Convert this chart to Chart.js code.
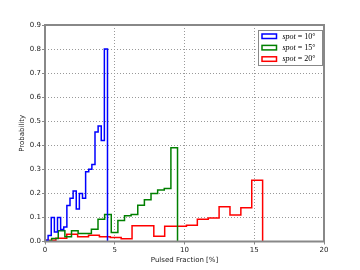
<!DOCTYPE html>
<html>
<head>
<meta charset="utf-8">
<script src="https://cdn.jsdelivr.net/npm/chart.js@4/dist/chart.umd.min.js"></script>
<style>
  html, body { margin: 0; padding: 0; background: #fff; }
</style>
</head>
<body>
<canvas id="pfChart" width="360" height="270"></canvas>
<script>
// normalised 20-bin histograms, each one spans 0 .. its own max pulsed fraction
const spotLabels = ["spot = 10°", "spot = 15°", "spot = 20°"];
const spotColors = ["#0000ff", "#008000", "#ff0000"];
const rangeMax = [4.48, 9.5, 15.6];
const spot10 = [0.005, 0.025, 0.10, 0.04, 0.10, 0.05, 0.06, 0.15, 0.18, 0.21,
                0.135, 0.20, 0.18, 0.29, 0.30, 0.32, 0.455, 0.48, 0.42, 0.80];
const spot15 = [0.002, 0.0125, 0.045, 0.02, 0.045, 0.033, 0.033, 0.051, 0.093, 0.1125,
                0.0375, 0.0875, 0.107, 0.1125, 0.151, 0.174, 0.20, 0.214, 0.22, 0.39];
const spot20 = [0.005, 0.013, 0.03, 0.02, 0.026, 0.02, 0.017, 0.011, 0.065, 0.065,
                0.022, 0.063, 0.063, 0.068, 0.092, 0.098, 0.144, 0.11, 0.14, 0.255];
const xTicks = [0, 5, 10, 15, 20];
const yTicks = [0, 0.1, 0.2, 0.3, 0.4, 0.5, 0.6, 0.7, 0.8, 0.9];

// outline of a step histogram: up from 0, across each bin, down at the end
function stepOutline(vals, max) {
  const w = max / vals.length;
  const pts = [{ x: 0, y: 0 }];
  vals.forEach((v, i) => pts.push({ x: i * w, y: v }));
  pts.push({ x: max, y: vals[vals.length - 1] });
  pts.push({ x: max, y: 0 });
  return pts;
}

const series = [spot10, spot15, spot20];
const datasets = series.map((vals, i) => ({
  label: spotLabels[i],
  data: stepOutline(vals, rangeMax[i]),
  borderColor: spotColors[i],
  borderWidth: 1.5,
  stepped: true,
  pointRadius: 0,
  fill: false,
}));

const frame = {
  id: "frame",
  afterDraw(chart) {
    const { ctx, chartArea: a } = chart;
    ctx.save();
    ctx.strokeStyle = "#888";
    ctx.lineWidth = 2;
    ctx.strokeRect(a.left, a.top, a.right - a.left, a.bottom - a.top);
    ctx.restore();
  },
};

const insideLegend = {
  id: "insideLegend",
  afterDraw(chart) {
    const { ctx, chartArea: a } = chart;
    const x0 = a.right - 65.5, y0 = a.top + 5.5, w = 64, h = 35;
    ctx.save();
    ctx.fillStyle = "#fff";
    ctx.fillRect(x0, y0, w, h);
    ctx.strokeStyle = "#888";
    ctx.lineWidth = 1;
    ctx.strokeRect(x0, y0, w, h);
    chart.data.datasets.forEach((ds, i) => {
      const cy = y0 + 5.5 + i * 11.4;
      ctx.strokeStyle = ds.borderColor;
      ctx.lineWidth = 1.5;
      ctx.strokeRect(x0 + 3.5, cy - 2, 14.5, 4.5);
      const sp = ds.label.indexOf(" ");
      const head = ds.label.slice(0, sp), tail = ds.label.slice(sp);
      ctx.fillStyle = "#000";
      ctx.textBaseline = "middle";
      let tx = x0 + 24;
      ctx.font = "italic 8px 'Liberation Serif'";
      ctx.fillText(head, tx, cy + 0.5);
      tx += ctx.measureText(head).width;
      ctx.font = "8px 'Liberation Serif'";
      ctx.fillText(tail, tx, cy + 0.5);
    });
    ctx.restore();
  },
};

const tickFont = { family: "'DejaVu Sans'", size: 7 };

new Chart(document.getElementById("pfChart"), {
  type: "line",
  data: { datasets },
  options: {
    responsive: false,
    animation: false,
    devicePixelRatio: 1,
    layout: { padding: { left: 0, top: 25, right: 36, bottom: 0 } },
    plugins: { legend: { display: false }, tooltip: { enabled: false } },
    scales: {
      x: {
        type: "linear",
        min: 0,
        max: 20,
        afterBuildTicks: (s) => { s.ticks = xTicks.map((v) => ({ value: v })); },
        afterFit: (s) => { s.height = 28.5; },
        ticks: { font: tickFont, color: "#222", padding: 1, maxRotation: 0 },
        grid: { color: "#999", tickLength: 3, tickColor: "#888", tickBorderDash: [] },
        border: { display: false, dash: [1, 2] },
        title: {
          display: true,
          text: "Pulsed Fraction [%]",
          font: tickFont,
          color: "#222",
          padding: { top: 0, bottom: 6 },
        },
      },
      y: {
        min: 0,
        max: 0.9,
        afterBuildTicks: (s) => { s.ticks = yTicks.map((v) => ({ value: v })); },
        afterFit: (s) => { s.width = 45; },
        ticks: { font: tickFont, color: "#222", padding: 1, callback: (v) => v.toFixed(1) },
        grid: { color: "#999", tickLength: 3, tickColor: "#888", tickBorderDash: [] },
        border: { display: false, dash: [1, 2] },
        title: {
          display: true,
          text: "Probability",
          font: tickFont,
          color: "#222",
          padding: { top: 18, bottom: 0 },
        },
      },
    },
  },
  plugins: [frame, insideLegend],
});
</script>
</body>
</html>
